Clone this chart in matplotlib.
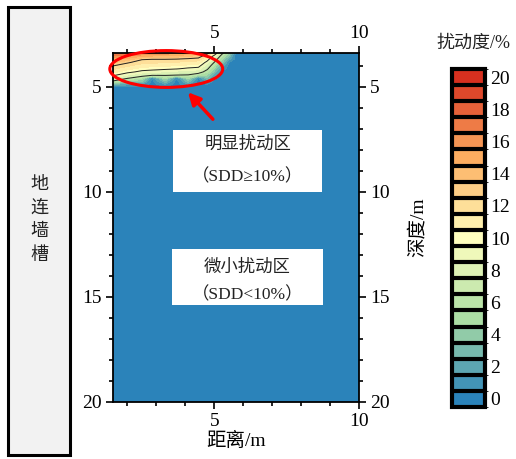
import numpy as np
import matplotlib
matplotlib.use('Agg')
import matplotlib.pyplot as plt
from matplotlib.colors import LinearSegmentedColormap, ListedColormap, BoundaryNorm
from matplotlib.patches import Ellipse, Rectangle
from matplotlib.ticker import MultipleLocator

plt.rcParams['font.family'] = ['Liberation Serif', 'Noto Sans CJK SC']

# ---------------- data ----------------
distance_m = [1.5, 2.0, 2.5, 2.85, 3.3, 3.7, 4.1, 4.45, 4.75, 5.0, 5.25, 5.5, 5.75, 10.0]
depth_m = [3.4, 3.55, 3.7, 3.85, 4.0, 4.15, 4.3, 4.45, 4.6, 4.75, 4.9, 5.05, 5.2, 20.0]
# disturbance degree SDD (%) ; rows = depth, columns = distance
sdd_percent = [
    [18.0, 17.4, 16.8, 16.5, 16.2, 16.0, 15.6, 14.8, 13.0, 11.0, 7.2, 4.5, 0, 0],
    [16.2, 15.6, 14.6, 14.4, 14.2, 14.0, 13.6, 13.2, 11.6, 8.9, 5.9, 3.2, 0, 0],
    [14.8, 14.0, 12.6, 12.5, 12.5, 12.4, 12.2, 12.0, 10.2, 7.7, 4.7, 1.8, 0, 0],
    [13.6, 12.7, 11.8, 11.7, 11.6, 11.4, 11.2, 11.0, 9.0, 6.4, 3.6, 0.5, 0, 0],
    [12.6, 11.7, 11.0, 10.8, 10.7, 10.5, 10.3, 10.1, 7.9, 5.3, 2.4, 0, 0, 0],
    [11.7, 10.8, 10.1, 10.0, 9.8, 9.6, 9.2, 9.0, 6.9, 4.2, 1.3, 0, 0, 0],
    [10.8, 9.9, 9.1, 8.8, 8.4, 8.1, 7.8, 7.6, 5.6, 3.1, 0.3, 0, 0, 0],
    [9.8, 8.5, 7.3, 7.0, 6.7, 6.5, 6.4, 5.2, 4.4, 2.0, 0, 0, 0, 0],
    [8.3, 6.6, 5.3, 0.5, 4.9, 0.4, 4.7, 0.3, 3.1, 0.9, 0, 0, 0, 0],
    [6.2, 4.2, 3.4, 0, 3.1, 0, 3.0, 0, 1.8, 0, 0, 0, 0, 0],
    [2.3, 1.7, 1.4, 0, 1.3, 0, 1.3, 0, 0.5, 0, 0, 0, 0, 0],
    [0, 0, 0, 0, 0, 0, 0, 0, 0, 0, 0, 0, 0, 0],
    [0, 0, 0, 0, 0, 0, 0, 0, 0, 0, 0, 0, 0, 0],
    [0, 0, 0, 0, 0, 0, 0, 0, 0, 0, 0, 0, 0, 0],
]
fill_levels = np.arange(-0.5, 21.0, 1.0)
line_levels = [6.5, 9.5, 12.5]
cbar_ticks = [0, 2, 4, 6, 8, 10, 12, 14, 16, 18, 20]

# ---------------- colours ----------------
anchor_colors = ['#2b83ba', '#abdda4', '#ffffbf', '#fdae61', '#d7301f']
base = LinearSegmentedColormap.from_list('sp5', anchor_colors)
band_colors = [base(i / 20) for i in range(21)]
cmap = ListedColormap(band_colors)
norm = BoundaryNorm(fill_levels, cmap.N)

W, H = 516, 459
fig = plt.figure(figsize=(W / 100, H / 100), dpi=100)

# left panel
fig.add_artist(Rectangle((8 / W, 1 - 455 / H), 62 / W, 448 / H, transform=fig.transFigure,
                         facecolor='#f2f2f2', edgecolor='black', lw=2.2))
fig.text(39 / W, 1 - 220 / H, '地\n连\n墙\n槽', ha='center', va='center', fontsize=13,
         linespacing=1.5, color='#222222')

# main axes
ax = fig.add_axes([113 / W, 1 - 402 / H, 246 / W, 349 / H])
X, Y = np.meshgrid(distance_m, depth_m)
Z = np.array(sdd_percent)
cf = ax.contourf(X, Y, Z, levels=fill_levels, cmap=cmap, norm=norm)
ax.contour(X, Y, Z, levels=line_levels, colors='#222222', linewidths=0.7)
ax.set_xlim(1.5, 10)
ax.set_ylim(20, 3.4)
ax.xaxis.set_major_locator(MultipleLocator(5))
ax.xaxis.set_minor_locator(MultipleLocator(1))
ax.yaxis.set_major_locator(MultipleLocator(5))
ax.yaxis.set_minor_locator(MultipleLocator(1))
ax.tick_params(which='both', direction='out', top=True, right=True, labeltop=True,
               labelright=True, labelsize=14, width=1.2, pad=3)
ax.tick_params(which='major', length=5)
ax.tick_params(which='minor', length=3)
for s in ax.spines.values():
    s.set_linewidth(1.3)
ax.set_xlabel('距离/m', fontsize=14, labelpad=1)
ax.yaxis.set_label_position('right')
ax.set_ylabel('深度/m', fontsize=14, labelpad=14)

# annotation boxes
ax.add_patch(Rectangle((0.244, 0.602), 0.606, 0.177, transform=ax.transAxes,
                       facecolor='white', edgecolor='none', zorder=3))
ax.text(0.547, 0.736, '明显扰动区', transform=ax.transAxes, ha='center', va='center',
        fontsize=12.5, zorder=4, color='#222222')
ax.text(0.547, 0.645, '（SDD≥10%）', transform=ax.transAxes, ha='center', va='center',
        fontsize=12.5, zorder=4, color='#222222')
ax.add_patch(Rectangle((0.240, 0.278), 0.614, 0.160, transform=ax.transAxes,
                       facecolor='white', edgecolor='none', zorder=3))
ax.text(0.547, 0.384, '微小扰动区', transform=ax.transAxes, ha='center', va='center',
        fontsize=12.5, zorder=4, color='#222222')
ax.text(0.547, 0.307, '（SDD<10%）', transform=ax.transAxes, ha='center', va='center',
        fontsize=12.5, zorder=4, color='#222222')

# red ellipse and arrow
ax.add_patch(Ellipse((3.34, 4.16), 3.9, 1.75, fill=False, edgecolor='red', lw=2.2,
                     clip_on=False, zorder=5))
ax.annotate('', xy=(4.09, 5.27), xytext=(4.95, 6.55),
            arrowprops=dict(arrowstyle='-|>', color='red', lw=2.5, mutation_scale=18,
                            shrinkA=0, shrinkB=0), zorder=5)

# colorbar
cax = fig.add_axes([452 / W, 1 - 407 / H, 33 / W, 338 / H])
cb = fig.colorbar(cf, cax=cax, ticks=cbar_ticks, drawedges=True)
cb.outline.set_linewidth(3)
cb.outline.set_edgecolor('black')
cb.dividers.set_color('black')
cb.dividers.set_linewidth(3)
cax.tick_params(length=0, labelsize=14, pad=4)
fig.text(473 / W, 1 - 43 / H, '扰动度/%', ha='center', va='center', fontsize=13,
         color='#222222')

fig.savefig('out.png', dpi=100)
